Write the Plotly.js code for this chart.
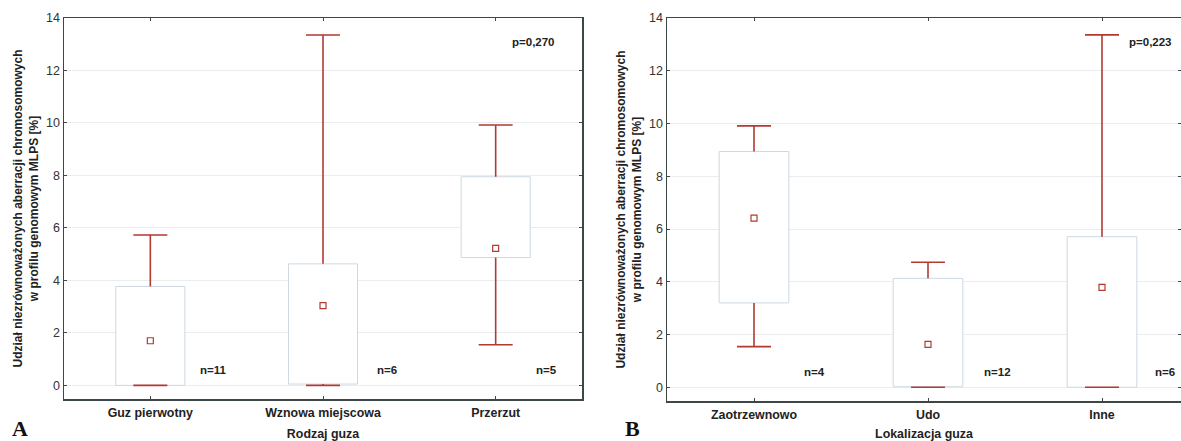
<!DOCTYPE html>
<html>
<head>
<meta charset="utf-8">
<script src="https://cdn.plot.ly/plotly-3.0.1.min.js"></script>
<style>
html,body{margin:0;padding:0;background:#fff;overflow:hidden;}
#chart{width:1181px;height:441px;}
</style>
</head>
<body>
<div id="chart"></div>
<script>
// ---- Data (panel A: tumour type) ----
const catsA = ['Guz pierwotny', 'Wznowa miejscowa', 'Przerzut'];
const minA  = [0, 0, 1.55];
const q1A   = [0, 0.05, 4.87];
const medA  = [1.70, 3.04, 5.22];
const q3A   = [3.77, 4.63, 7.95];
const maxA  = [5.73, 13.35, 9.92];
const nA    = ['n=11', 'n=6', 'n=5'];
const pA    = 'p=0,270';

// ---- Data (panel B: tumour location) ----
const catsB = ['Zaotrzewnowo', 'Udo', 'Inne'];
const minB  = [1.54, 0, 0];
const q1B   = [3.20, 0.02, 0];
const medB  = [6.41, 1.63, 3.79];
const q3B   = [8.94, 4.13, 5.71];
const maxB  = [9.91, 4.74, 13.36];
const nB    = ['n=4', 'n=12', 'n=6'];
const pB    = 'p=0,223';

const yTicks = [0, 2, 4, 6, 8, 10, 12, 14];
const yTitle = 'Udział niezrównoważonych aberracji chromosomowych<br>w profilu genomowym MLPS [%]';

const RED = '#b23a30';
const BOXLINE = '#cdd8e2';
const AXC = '#3d4747';
const FONT = 'Liberation Sans, Arial, sans-serif';

function panelTraces(cats, mn, q1, med, q3, mx, xa, ya) {
  const zeros = cats.map(() => 0);
  const invisible = {color: 'rgba(0,0,0,0)', size: 1};
  return [
    // boxes (interquartile range)
    {type: 'bar', x: cats, base: q1, y: q3.map((v, i) => v - q1[i]), width: 0.4,
     marker: {color: '#ffffff', line: {color: BOXLINE, width: 1}},
     xaxis: xa, yaxis: ya, showlegend: false, hoverinfo: 'skip'},
    // whisker stems
    {type: 'scatter', mode: 'markers', x: cats.concat(cats), y: q3.concat(q1),
     marker: invisible,
     error_y: {type: 'data', symmetric: false,
               array: mx.map((v, i) => v - q3[i]).concat(zeros),
               arrayminus: zeros.concat(q1.map((v, i) => v - mn[i])),
               color: RED, thickness: 1.6, width: 0},
     xaxis: xa, yaxis: ya, showlegend: false, hoverinfo: 'skip'},
    // whisker caps
    {type: 'scatter', mode: 'markers', x: cats.concat(cats), y: mx.concat(mn),
     marker: invisible,
     error_y: {type: 'data', symmetric: true, array: zeros.concat(zeros),
               color: RED, thickness: 1.6, width: 17},
     xaxis: xa, yaxis: ya, showlegend: false, hoverinfo: 'skip'},
    // median markers
    {type: 'scatter', mode: 'markers', x: cats, y: med,
     marker: {symbol: 'square-open', size: 6, color: RED, line: {width: 1.2, color: RED}},
     xaxis: xa, yaxis: ya, showlegend: false}
  ];
}

const data = panelTraces(catsA, minA, q1A, medA, q3A, maxA, 'x', 'y')
  .concat(panelTraces(catsB, minB, q1B, medB, q3B, maxB, 'x2', 'y2'));

function xAxis(domain, range, title, anchor) {
  return {
    domain: domain, range: range, anchor: anchor, type: 'category',
    showline: true, linecolor: AXC, linewidth: 1.5, mirror: 'ticks',
    ticks: 'inside', ticklen: 3, tickcolor: AXC, showgrid: false, zeroline: false,
    tickfont: {family: FONT, size: 12.4, color: '#222', weight: 'bold'},
    ticklabelstandoff: 2,
    title: {text: title, font: {family: FONT, size: 12.4, color: '#222', weight: 'bold'}, standoff: 11},
    automargin: false, fixedrange: true
  };
}
function yAxis(domain, anchor) {
  return {
    domain: domain, range: [-0.52, 14], anchor: anchor, tickvals: yTicks,
    showline: true, linecolor: AXC, linewidth: 1.5, mirror: 'ticks',
    ticks: 'inside', ticklen: 3, tickcolor: AXC,
    showgrid: true, gridcolor: '#e9edf0', gridwidth: 1, zeroline: false,
    tickfont: {family: FONT, size: 12.5, color: '#333'},
    title: {text: yTitle, font: {family: FONT, size: 12, color: '#222', weight: 'bold'}, standoff: 5},
    automargin: false, fixedrange: true
  };
}

const annFont = {family: FONT, size: 11.5, color: '#222', weight: 'bold'};
const annotations = [];
const nOffA = [0.365, 0.372, 0.297];
nA.forEach((t, i) => annotations.push({xref: 'x', yref: 'y', x: i + nOffA[i], y: 0.6, text: t, showarrow: false, font: annFont}));
annotations.push({xref: 'x', yref: 'y', x: 2.22, y: 13.09, text: pA, showarrow: false, font: annFont});
const nOffB = [0.35, 0.40, 0.36];
nB.forEach((t, i) => annotations.push({xref: 'x2', yref: 'y2', x: i + nOffB[i], y: 0.59, text: t, showarrow: false, font: annFont}));
annotations.push({xref: 'x2', yref: 'y2', x: 2.28, y: 13.09, text: pB, showarrow: false, font: annFont});
annotations.push({xref: 'paper', yref: 'paper', x: 10 / 1181, y: 1 - 428 / 441, xanchor: 'left', yanchor: 'middle',
  text: 'A', showarrow: false, font: {family: 'Liberation Serif, Times New Roman, serif', size: 22, color: '#111', weight: 'bold'}});
annotations.push({xref: 'paper', yref: 'paper', x: 623 / 1181, y: 1 - 428 / 441, xanchor: 'left', yanchor: 'middle',
  text: 'B', showarrow: false, font: {family: 'Liberation Serif, Times New Roman, serif', size: 22, color: '#111', weight: 'bold'}});

const layout = {
  width: 1181, height: 441,
  margin: {l: 0, r: 0, t: 0, b: 0},
  paper_bgcolor: '#ffffff', plot_bgcolor: '#ffffff',
  showlegend: false,
  bargap: 0,
  xaxis: xAxis([64 / 1181, 582 / 1181], [-0.5, 2.5], 'Rodzaj guza', 'y'),
  yaxis: yAxis([1 - 399 / 441, 1 - 18 / 441], 'x'),
  xaxis2: xAxis([667 / 1181, 1], [-0.5, 2.454], 'Lokalizacja guza', 'y2'),
  yaxis2: yAxis([1 - 401 / 441, 1 - 18 / 441], 'x2'),
  annotations: annotations
};

Plotly.newPlot('chart', data, layout, {displayModeBar: false, staticPlot: true});
</script>
</body>
</html>
